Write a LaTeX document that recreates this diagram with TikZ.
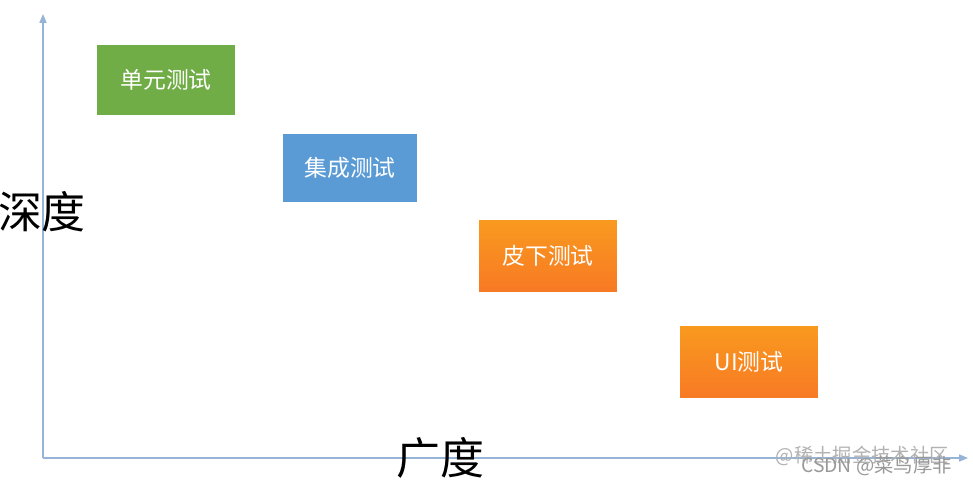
\documentclass[tikz,border=0pt]{standalone}
\usepackage{fontspec}
\newfontfamily\cjk{Noto Sans CJK SC}
\usetikzlibrary{arrows.meta}
\definecolor{gbox}{RGB}{112,173,71}
\definecolor{bbox}{RGB}{91,155,213}
\definecolor{obox}{RGB}{247,128,38}
\definecolor{axisc}{RGB}{150,180,215}
\begin{document}
\begin{tikzpicture}[x=0.02cm,y=-0.02cm,
  tbox/.style={minimum width=2.76cm,minimum height=1.42cm,inner sep=0pt,text=white,font=\cjk\fontsize{13}{15}\selectfont},
  ax/.style={draw=axisc,line width=0.7pt,-{Triangle[length=5pt,width=4pt]}}]
\useasboundingbox (0,0) rectangle (973,486);
\fill[white] (0,0) rectangle (973,486);
\coordinate (o) at (43,458);
\coordinate (ytop) at (43,14);
\coordinate (xend) at (968,458);
\draw[ax] (o) -- (ytop);
\draw[ax] (o) -- (xend);
\node[tbox,fill=gbox] (a) at (166,80) {单元测试};
\node[tbox,fill=bbox,minimum width=2.7cm,minimum height=1.36cm] (b) at (350,168) {集成测试};
\node[tbox,top color=obox!80!yellow,bottom color=obox!95!red] (c) at (548,256) {皮下测试};
\node[tbox,top color=obox!80!yellow,bottom color=obox!95!red] (d) at (749,362) {UI测试};
\node[font=\cjk\fontsize{25}{28}\selectfont] (ly) at (42,212) {深度};
\node[font=\cjk\fontsize{25}{28}\selectfont] (lx) at (440,458) {广度};
\node[font=\cjk\fontsize{11}{13}\selectfont,text=gray!60,anchor=east] (w1) at (955,456) {@稀土掘金技术社区};
\node[font=\cjk\fontsize{11}{13}\selectfont,text=gray!80,anchor=east] (w2) at (958,466) {CSDN @菜鸟厚非};
\end{tikzpicture}
\end{document}
